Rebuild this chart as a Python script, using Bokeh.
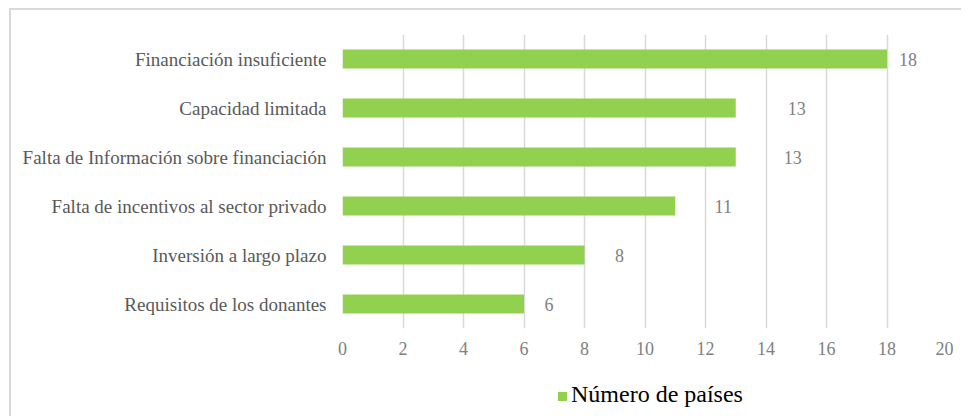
from bokeh.plotting import figure
from bokeh.models import ColumnDataSource, FixedTicker, Div
from bokeh.layouts import column
from bokeh.embed import file_html
from bokeh.resources import INLINE

categories = [
    "Financiación insuficiente",
    "Capacidad limitada",
    "Falta de Información sobre financiación",
    "Falta de incentivos al sector privado",
    "Inversión a largo plazo",
    "Requisitos de los donantes",
]
values = [18, 13, 13, 11, 8, 6]
x_ticks = [0, 2, 4, 6, 8, 10, 12, 14, 16, 18, 20]
series_name = "Número de países"

# label offsets (pixels to the right of each bar end), as placed in the reference
label_dx = [21, 61, 57, 48, 35, 25]

FONT = "Liberation Serif"
BAR_COLOR = "#92D050"
y_order = list(reversed(categories))

src = ColumnDataSource(dict(cat=categories, val=values,
                            lab=[str(v) for v in values], dx=label_dx))

p = figure(frame_width=605, frame_height=294, y_range=y_order, x_range=(0, 20),
           output_backend="svg", toolbar_location=None,
           min_border_left=331, min_border_right=6, min_border_top=24,
           min_border_bottom=40)
p.outline_line_color = None

r = p.hbar(y="cat", right="val", left=0, height=0.39, source=src,
           fill_color=BAR_COLOR, line_color=None)

p.text(x="val", y="cat", text="lab", source=src, x_offset="dx",
       text_align="center", text_baseline="middle",
       text_font=FONT, text_font_size="18px", text_color="#808080")

p.xaxis.ticker = FixedTicker(ticks=x_ticks)
p.xaxis.axis_line_color = None
p.xaxis.major_tick_line_color = None
p.xaxis.minor_tick_line_color = None
p.xaxis.major_tick_out = 0
p.xaxis.major_tick_in = 0
p.xaxis.major_label_text_font = FONT
p.xaxis.major_label_text_font_size = "18px"
p.xaxis.major_label_text_color = "#808080"
p.xaxis.major_label_standoff = 13

p.yaxis.axis_line_color = None
p.yaxis.major_tick_line_color = None
p.yaxis.minor_tick_line_color = None
p.yaxis.major_tick_out = 0
p.yaxis.major_tick_in = 0
p.yaxis.major_label_text_font = FONT
p.yaxis.major_label_text_font_size = "19px"
p.yaxis.major_label_text_color = "#595959"
p.yaxis.major_label_standoff = 16

p.xgrid.grid_line_color = "#D9D9D9"
p.xgrid.grid_line_width = 1.5
p.ygrid.grid_line_color = None

legend_div = Div(
    text=(f'<div style="padding-left:542px;padding-top:7px;white-space:nowrap;'
          f'font-family:\'{FONT}\';font-size:24px;line-height:28px;color:#000000">'
          f'<span style="display:inline-block;width:9px;height:9px;'
          f'background:{BAR_COLOR};margin-right:4px;vertical-align:middle"></span>'
          f'{series_name}</div>'),
    width=940, height=40)

layout = column(p, legend_div, spacing=0)
layout.styles = {"margin-left": "9px", "margin-top": "8px",
                 "border-left": "2px solid #D9D9D9", "border-top": "2px solid #D9D9D9"}

open("out.html", "w").write(file_html(layout, INLINE))
